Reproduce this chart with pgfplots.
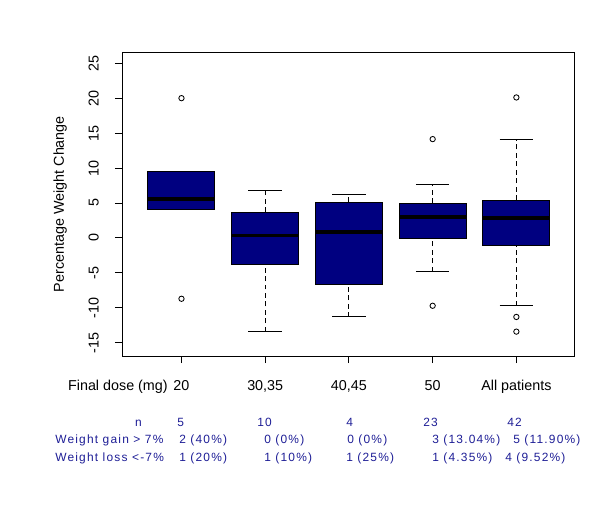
\documentclass[border=0pt]{standalone}
\usepackage{pgfplots}
\pgfplotsset{compat=1.18}
\usepgfplotslibrary{statistics}
\usepackage{fontspec}
\setmainfont{Liberation Sans}
\newfontfamily\tablefont[LetterSpace=10]{Liberation Sans}
\definecolor{boxnavy}{RGB}{0,0,128}
\definecolor{tabblue}{RGB}{30,30,150}

\pgfplotsset{
  rbox/.style={
    black, mark=o, mark size=1.9pt, mark options={solid, line width=0.6pt},
    boxplot/draw direction=y,
    boxplot/box extend=0.8,
    boxplot/every box/.style={fill=boxnavy, draw=black, line width=0.7pt},
    boxplot/draw/median/.code={
      \draw[line width=2.6pt, black]
        (boxplot box cs:\pgfplotsboxplotvalue{median},0) --
        (boxplot box cs:\pgfplotsboxplotvalue{median},1);},
    boxplot/draw/lower whisker/.code={
      \draw[dash pattern=on 3.5pt off 2.5pt, line width=0.7pt]
        (boxplot box cs:\pgfplotsboxplotvalue{lower whisker},0.5) --
        (boxplot box cs:\pgfplotsboxplotvalue{lower quartile},0.5);
      \draw[line width=0.7pt]
        (boxplot box cs:\pgfplotsboxplotvalue{lower whisker},0.25) --
        (boxplot box cs:\pgfplotsboxplotvalue{lower whisker},0.75);},
    boxplot/draw/upper whisker/.code={
      \draw[dash pattern=on 3.5pt off 2.5pt, line width=0.7pt]
        (boxplot box cs:\pgfplotsboxplotvalue{upper quartile},0.5) --
        (boxplot box cs:\pgfplotsboxplotvalue{upper whisker},0.5);
      \draw[line width=0.7pt]
        (boxplot box cs:\pgfplotsboxplotvalue{upper whisker},0.25) --
        (boxplot box cs:\pgfplotsboxplotvalue{upper whisker},0.75);},
  }
}

\begin{document}
\begin{tikzpicture}
\begin{axis}[
  at={(3.05cm,3.8cm)}, anchor=south west,
  scale only axis, width=11.3cm, height=7.6cm,
  xmin=0.29, xmax=5.69, ymin=-16.9, ymax=26.6,
  xtick={1,2,3,4,5},
  xticklabels={20,{30,35},{40,45},50,All patients},
  ytick={-15,-10,...,25},
  tick align=outside, xtick pos=bottom, ytick pos=left,
  major tick length=5pt,
  axis line style={line width=0.7pt},
  every tick/.style={black, line width=0.7pt},
  /pgf/number format/assume math mode=true,
  tick label style={font=\fontsize{10.2}{12}\selectfont},
  xticklabel style={yshift=-8.5pt},
  yticklabel style={xshift=-8pt, rotate=90, anchor=south},
  ylabel={Percentage Weight Change},
  ylabel style={at={(axis description cs:-0.137,0.5)}, anchor=center,
    font=\fontsize{10.2}{12}\selectfont},
]
\addplot[rbox, boxplot prepared={draw position=1,
  lower whisker=4.14, lower quartile=4.14, median=5.57,
  upper quartile=9.57, upper whisker=9.57}]
  table[row sep=\\, y index=0] {data\\ 20\\ -8.7\\};
\addplot[rbox, boxplot prepared={draw position=2,
  lower whisker=-13.4, lower quartile=-3.76, median=0.33,
  upper quartile=3.7, upper whisker=6.86}]
  coordinates {};
\addplot[rbox, boxplot prepared={draw position=3,
  lower whisker=-11.3, lower quartile=-6.67, median=0.86,
  upper quartile=5.1, upper whisker=6.19}]
  coordinates {};
\addplot[rbox, boxplot prepared={draw position=4,
  lower whisker=-4.8, lower quartile=-0.1, median=3.0,
  upper quartile=4.95, upper whisker=7.71}]
  table[row sep=\\, y index=0] {data\\ 14.14\\ -9.7\\};
\addplot[rbox, boxplot prepared={draw position=5,
  lower whisker=-9.67, lower quartile=-1.14, median=2.81,
  upper quartile=5.43, upper whisker=14.14}]
  table[row sep=\\, y index=0] {data\\ 20.1\\ -11.3\\ -13.4\\};
\end{axis}

\begin{scope}[x=0.025cm, y=-0.025cm, shift={(0cm,12.7cm)}]
\path (0,0) rectangle (600,508);
\node[anchor=base east, inner sep=0, font=\fontsize{10.2}{12}\selectfont]
  at (168,390) {Final dose (mg)};
\begin{scope}[every node/.style={anchor=base west, inner sep=0, text=tabblue,
    font=\tablefont\fontsize{8.5}{10}\selectfont}]
\node[anchor=base east] at (142,426) {n};
\node at (177,426) {5};
\node at (257,426) {10};
\node at (346,426) {4};
\node at (423,426) {23};
\node at (507,426) {42};
\node at (55,443.5) {Weight gain > 7\%};
\node at (179,443.5) {2 (40\%)};
\node at (264,443.5) {0 (0\%)};
\node at (347,443.5) {0 (0\%)};
\node at (432,443.5) {3 (13.04\%)};
\node at (513,443.5) {5 (11.90\%)};
\node at (55,461) {Weight loss <-7\%};
\node at (179,461) {1 (20\%)};
\node at (264,461) {1 (10\%)};
\node at (346,461) {1 (25\%)};
\node at (432,461) {1 (4.35\%)};
\node at (505,461) {4 (9.52\%)};
\end{scope}
\end{scope}
\end{tikzpicture}
\end{document}
